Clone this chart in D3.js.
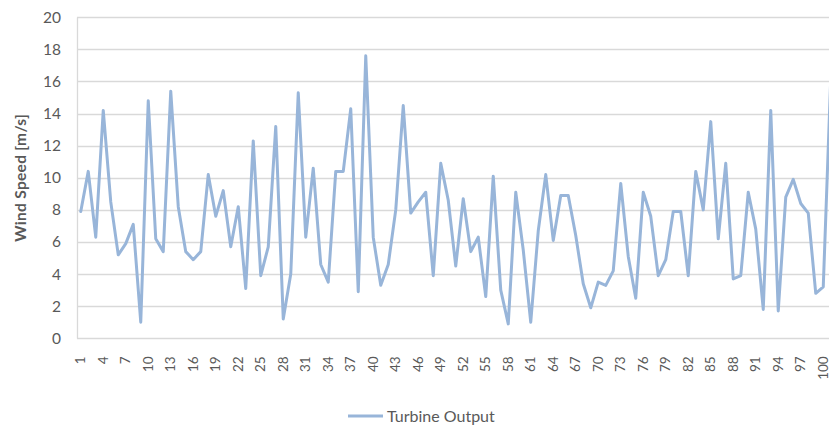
<!DOCTYPE html>
<html>
<head>
<meta charset="utf-8">
<script src="https://cdn.jsdelivr.net/npm/d3@7"></script>
<style>
  html, body { margin: 0; padding: 0; background: #fff; }
  svg { display: block; overflow: hidden; }
  text { font-family: Lato, "Open Sans", sans-serif; }
</style>
</head>
<body>
<svg id="chart" width="829" height="428"></svg>
<script>
// Sample index along the x axis
const categories = d3.range(1, 102);

// Wind speed per sample [m/s]
const windSpeed = [
  7.9, 10.4, 6.3, 14.2, 8.5, 5.2, 5.9, 7.1, 1.0, 14.8,
  6.2, 5.4, 15.4, 8.2, 5.4, 4.9, 5.4, 10.2, 7.6, 9.2,
  5.7, 8.2, 3.1, 12.3, 3.9, 5.7, 13.2, 1.2, 4.0, 15.3,
  6.3, 10.6, 4.6, 3.5, 10.4, 10.4, 14.3, 2.9, 17.6, 6.3,
  3.3, 4.6, 8.0, 14.5, 7.8, 8.5, 9.1, 3.9, 10.9, 8.6,
  4.5, 8.7, 5.4, 6.3, 2.6, 10.1, 3.0, 0.9, 9.1, 5.5,
  1.0, 6.7, 10.2, 6.1, 8.9, 8.9, 6.4, 3.4, 1.9, 3.5,
  3.3, 4.2, 9.65, 5.1, 2.5, 9.1, 7.6, 3.9, 4.9, 7.9,
  7.9, 3.9, 10.4, 8.0, 13.5, 6.2, 10.9, 3.7, 3.9, 9.1,
  6.8, 1.8, 14.2, 1.7, 8.8, 9.9, 8.4, 7.8, 2.8, 3.2,
  16.2
];

// Axis tick values and series name
const yTicks = [0, 2, 4, 6, 8, 10, 12, 14, 16, 18, 20];
const xTickLabels = categories.filter(c => (c - 1) % 3 === 0);
const seriesName = "Turbine Output";
const yTitle = "Wind Speed [m/s]";

const lineColor = "#98b5d9";
const gridColor = "#d9d9d9";
const textColor = "#595959";

const svg = d3.select("#chart");

const plot = { left: 77, top: 17.3, bottom: 338.3, step: 7.5 };
plot.right = plot.left + plot.step * categories.length;

const x = d3.scaleBand()
  .domain(categories)
  .range([plot.left, plot.right])
  .paddingInner(0).paddingOuter(0);

const y = d3.scaleLinear()
  .domain([0, 20])
  .range([plot.bottom, plot.top]);

// Horizontal gridlines
svg.append("g")
  .selectAll("line")
  .data(yTicks)
  .join("line")
  .attr("x1", plot.left)
  .attr("x2", plot.right)
  .attr("y1", d => Math.round(y(d)) + 0.5)
  .attr("y2", d => Math.round(y(d)) + 0.5)
  .attr("stroke", gridColor)
  .attr("stroke-width", 1.3);

// Left axis line
svg.append("line")
  .attr("x1", plot.left + 0.5).attr("x2", plot.left + 0.5)
  .attr("y1", Math.round(y(20)) + 0.5).attr("y2", Math.round(y(0)) + 0.5)
  .attr("stroke", gridColor)
  .attr("stroke-width", 1.3);

// Y axis labels
const yAxis = d3.axisLeft(y).tickValues(yTicks).tickSize(0).tickPadding(0);
const gy = svg.append("g")
  .attr("transform", `translate(${plot.left - 16},0)`)
  .call(yAxis);
gy.select(".domain").remove();
gy.selectAll("text")
  .attr("fill", textColor)
  .style("font-size", "15.5px")
  .style("font-family", "Lato, 'Open Sans', sans-serif");

// X axis labels (every third sample, rotated)
const xAxis = d3.axisBottom(x).tickValues(xTickLabels).tickSize(0).tickPadding(0);
const gx = svg.append("g")
  .attr("transform", `translate(0,${plot.bottom + 18})`)
  .call(xAxis);
gx.select(".domain").remove();
gx.selectAll("text")
  .attr("fill", textColor)
  .style("font-size", "13.5px")
  .style("font-family", "Lato, 'Open Sans', sans-serif")
  .attr("text-anchor", "end")
  .attr("dy", "0.35em")
  .attr("y", 0)
  .attr("x", 0)
  .attr("transform", "rotate(-90)");

// Y axis title
svg.append("text")
  .attr("transform", `translate(26,${(plot.top + plot.bottom) / 2}) rotate(-90)`)
  .attr("text-anchor", "middle")
  .attr("fill", textColor)
  .style("font-size", "15.5px")
  .style("font-weight", "700")
  .style("letter-spacing", "0.3px")
  .text(yTitle);

// Wind speed line
const line = d3.line()
  .x((d, i) => x(categories[i]) + x.bandwidth() / 2)
  .y(d => y(d));

svg.append("path")
  .datum(windSpeed)
  .attr("fill", "none")
  .attr("stroke", lineColor)
  .attr("stroke-width", 3)
  .attr("stroke-linejoin", "round")
  .attr("stroke-linecap", "round")
  .attr("d", line);

// Legend
const legend = svg.append("g").attr("transform", "translate(348,416)");
legend.append("line")
  .attr("x1", 0).attr("x2", 35)
  .attr("y1", 0).attr("y2", 0)
  .attr("stroke", lineColor)
  .attr("stroke-width", 3);
legend.append("text")
  .attr("x", 39)
  .attr("y", 0)
  .attr("dy", "0.35em")
  .attr("fill", textColor)
  .style("font-size", "16px")
  .text(seriesName);
</script>
</body>
</html>
